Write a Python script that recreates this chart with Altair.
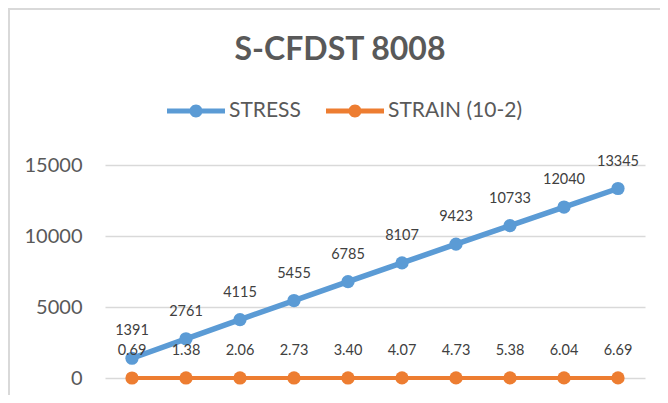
import altair as alt
import pandas as pd

categories = list(range(1, 11))
stress = [1391, 2761, 4115, 5455, 6785, 8107, 9423, 10733, 12040, 13345]
strain = [0.69, 1.38, 2.06, 2.73, 3.40, 4.07, 4.73, 5.38, 6.04, 6.69]
series_names = ["STRESS", "STRAIN (10-2)"]
series_colors = ["#5b9bd5", "#ed7d31"]
series_widths = [5.5, 4]
y_ticks = [0, 5000, 10000, 15000]

rows = []
for c, s, e in zip(categories, stress, strain):
    rows.append({"cat": c, "series": series_names[0], "value": s, "label": f"{s}", "lw": series_widths[0]})
    rows.append({"cat": c, "series": series_names[1], "value": e, "label": f"{e:.2f}", "lw": series_widths[1]})
df = pd.DataFrame(rows)

x = alt.X("cat:O", axis=None, scale=alt.Scale(type="point", padding=0.5))
y = alt.Y(
    "value:Q",
    scale=alt.Scale(domain=[0, 15000], nice=False),
    axis=alt.Axis(
        values=y_ticks, title=None, grid=True, gridColor="#d9d9d9", gridWidth=1.5,
        domain=False, ticks=False, labelFont="Lato", labelFontSize=20, format="d",
        labelColor="#595959", labelPadding=23,
    ),
)
color_scale = alt.Scale(domain=series_names, range=series_colors)

legend_path = ("M-1,-0.086L1,-0.086L1,0.086L-1,0.086Z "
               "M-0.224,0A0.224,0.224,0,1,1,0.224,0A0.224,0.224,0,1,1,-0.224,0Z")
legend = alt.Legend(
    title=None, orient="none", legendX=62, legendY=-83, direction="horizontal",
    symbolType=legend_path, symbolSize=3364, symbolStrokeWidth=0,
    symbolOpacity=1, labelFont="Lato", labelFontSize=21, labelColor="#595959",
    labelOffset=4, columnPadding=25,
)

base = alt.Chart(df)

lines = base.mark_line().encode(
    x=x, y=y,
    color=alt.Color("series:N", scale=color_scale, legend=legend),
    strokeWidth=alt.StrokeWidth("lw:Q", scale=None, legend=None),
)

points = base.mark_point(filled=True, size=175, opacity=1).encode(
    x=x, y=y,
    color=alt.Color("series:N", scale=color_scale, legend=legend),
)

labels = base.mark_text(dy=-27, font="Lato", fontSize=14.5, color="#404040", baseline="middle").encode(
    x=x, y=y, text="label:N"
)

frame_df = pd.DataFrame({"d": [0]})
top_border = alt.Chart(frame_df).mark_rule(color="#d9d9d9", strokeWidth=2).encode(
    x=alt.value(-97), x2=alt.value(555), y=alt.value(-156)
)
left_border = alt.Chart(frame_df).mark_rule(color="#d9d9d9", strokeWidth=2).encode(
    x=alt.value(-96), y=alt.value(-157), y2=alt.value(230)
)

chart = alt.layer(top_border, left_border, lines, points, labels).properties(
    width=540,
    height=213,
    autosize=alt.AutoSizeParams(type="none"),
    padding={"left": 97, "top": 157, "right": 15, "bottom": 17},
    title=alt.TitleParams(
        "S-CFDST 8008", font="Lato", fontSize=32, fontWeight="bold", color="#595959",
        anchor="middle", dx=-35, offset=0, dy=60,
    ),
).configure_view(stroke=None)

chart.save("out.html", embed_options={"renderer": "svg", "actions": False})
